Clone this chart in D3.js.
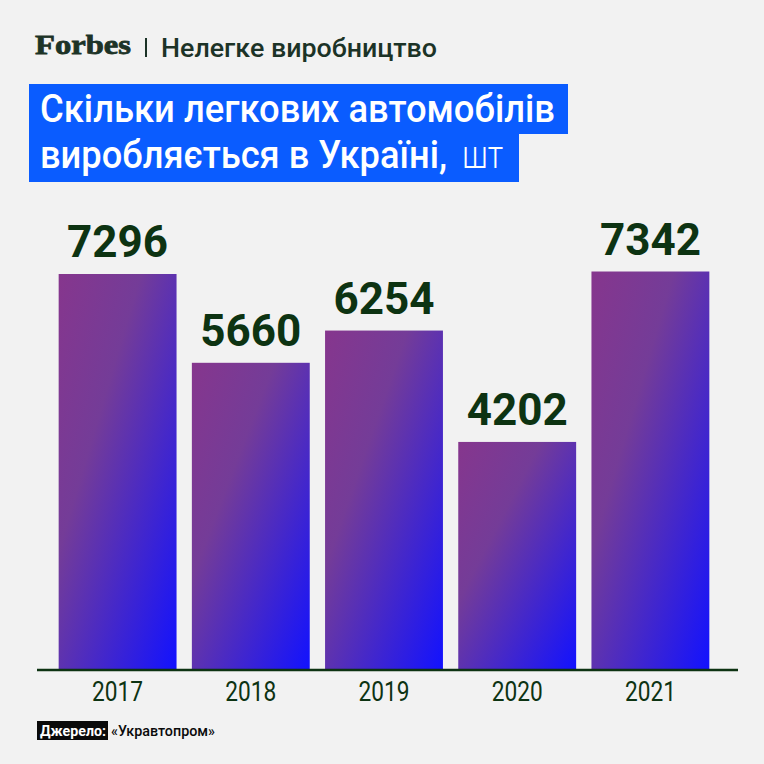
<!DOCTYPE html>
<html lang="uk">
<head>
  <meta charset="UTF-8">
  <script src="https://cdnjs.cloudflare.com/ajax/libs/d3/7.8.5/d3.min.js"></script>
  <title>Легкові автомобілі</title>
  <style>
    body { margin: 0; background: #f2f2f2; }
  </style>
</head>
<body>
<div id="chart"></div>
<script>

var years = ["2017", "2018", "2019", "2020", "2021"];
var values = [7296, 5660, 6254, 4202, 7342];

var W = 764, H = 764;
var green = "#0d3312";

var svg = d3.select("#chart").append("svg")
  .attr("width", W).attr("height", H)
  .style("display", "block");

svg.append("rect").attr("width", W).attr("height", H).attr("fill", "#f2f2f2");

// gradient for bars
var defs = svg.append("defs");
var grad = defs.append("linearGradient")
  .attr("id", "barGrad")
  .attr("x1", "0").attr("y1", "0").attr("x2", "1").attr("y2", "1");
grad.append("stop").attr("offset", "0%").attr("stop-color", "#86368d");
grad.append("stop").attr("offset", "35%").attr("stop-color", "#743c98");
grad.append("stop").attr("offset", "100%").attr("stop-color", "#1212ff");

// header
svg.append("text")
  .attr("x", 35).attr("y", 54)
  .attr("font-family", "Liberation Serif, DejaVu Serif, serif")
  .attr("font-weight", "bold")
  .attr("font-size", 28)
  .attr("textLength", 96)
  .attr("lengthAdjust", "spacingAndGlyphs")
  .attr("stroke", "#1c3327")
  .attr("stroke-width", 0.8)
  .attr("fill", "#1c3327")
  .text("Forbes");

svg.append("rect").attr("x", 145).attr("y", 38).attr("width", 2).attr("height", 19).attr("fill", "#1c3327");

svg.append("text")
  .attr("x", 161).attr("y", 57)
  .attr("font-family", "Roboto, sans-serif")
  .attr("font-weight", 500)
  .attr("font-size", 25)
  .attr("textLength", 276)
  .attr("lengthAdjust", "spacingAndGlyphs")
  .attr("fill", "#1c3327")
  .text("Нелегке виробництво");

// title boxes
svg.append("rect").attr("x", 29).attr("y", 84).attr("width", 539).attr("height", 50).attr("fill", "#0a5cff");
svg.append("rect").attr("x", 29).attr("y", 133).attr("width", 490).attr("height", 49).attr("fill", "#0a5cff");

var titleFont = "Roboto, sans-serif";

svg.append("text")
  .attr("x", 40).attr("y", 122)
  .attr("font-family", titleFont)
  .attr("font-weight", 500)
  .attr("font-size", 38)
  .attr("textLength", 515)
  .attr("lengthAdjust", "spacingAndGlyphs")
  .attr("fill", "#fff")
  .text("Скільки легкових автомобілів");

svg.append("text")
  .attr("x", 40).attr("y", 168)
  .attr("font-family", titleFont)
  .attr("font-weight", 500)
  .attr("font-size", 38)
  .attr("textLength", 407)
  .attr("lengthAdjust", "spacingAndGlyphs")
  .attr("fill", "#fff")
  .text("виробляється в Україні,");

svg.append("text")
  .attr("x", 462).attr("y", 168)
  .attr("font-family", titleFont)
  .attr("font-weight", 300)
  .attr("font-size", 38)
  .attr("textLength", 41)
  .attr("lengthAdjust", "spacingAndGlyphs")
  .attr("fill", "#fff")
  .text("шт");

// chart area
var baseline = 670;

var x = d3.scaleBand()
  .domain(years)
  .range([52, 716])
  .paddingInner(0.115)
  .paddingOuter(0.05);

var y = d3.scaleLinear()
  .domain([0, 7296])
  .range([baseline, 274]);

svg.selectAll(".bar")
  .data(values)
  .enter().append("rect")
  .attr("class", "bar")
  .attr("x", function(d, i) { return x(years[i]); })
  .attr("y", function(d) { return y(d); })
  .attr("width", x.bandwidth())
  .attr("height", function(d) { return baseline - y(d); })
  .attr("fill", "url(#barGrad)");

svg.selectAll(".val")
  .data(values)
  .enter().append("text")
  .attr("class", "val")
  .attr("x", function(d, i) { return x(years[i]) + x.bandwidth() / 2; })
  .attr("y", function(d) { return y(d) - 17; })
  .attr("text-anchor", "middle")
  .attr("font-family", "Roboto, sans-serif")
  .attr("font-weight", "bold")
  .attr("font-size", 44)
  .attr("fill", green)
  .text(function(d) { return d; });

// axis
var xAxis = svg.append("g")
  .attr("transform", "translate(0," + baseline + ")")
  .call(d3.axisBottom(x).tickSize(0).tickPadding(12));
xAxis.select(".domain").remove();
xAxis.append("line")
  .attr("x1", 37).attr("x2", 738)
  .attr("stroke", green).attr("stroke-width", 2.5);
xAxis.selectAll(".tick text")
  .attr("dy", null)
  .attr("y", 31)
  .attr("font-family", "Roboto, sans-serif")
  .attr("font-size", 27)
  .attr("textLength", 51)
  .attr("lengthAdjust", "spacingAndGlyphs")
  .attr("fill", green);

// source
svg.append("rect").attr("x", 37).attr("y", 721).attr("width", 71).attr("height", 19).attr("fill", "#0a0a0a");
svg.append("text")
  .attr("x", 40).attr("y", 736)
  .attr("font-family", "Roboto, sans-serif")
  .attr("font-weight", "bold")
  .attr("font-size", 15)
  .attr("textLength", 66)
  .attr("lengthAdjust", "spacingAndGlyphs")
  .attr("fill", "#fff")
  .text("Джерело:");
svg.append("text")
  .attr("x", 111).attr("y", 736)
  .attr("font-family", "Roboto, sans-serif")
  .attr("font-weight", 500)
  .attr("font-size", 15)
  .attr("textLength", 104)
  .attr("lengthAdjust", "spacingAndGlyphs")
  .attr("fill", "#0a0a0a")
  .text("«Укравтопром»");

</script>
</body>
</html>
